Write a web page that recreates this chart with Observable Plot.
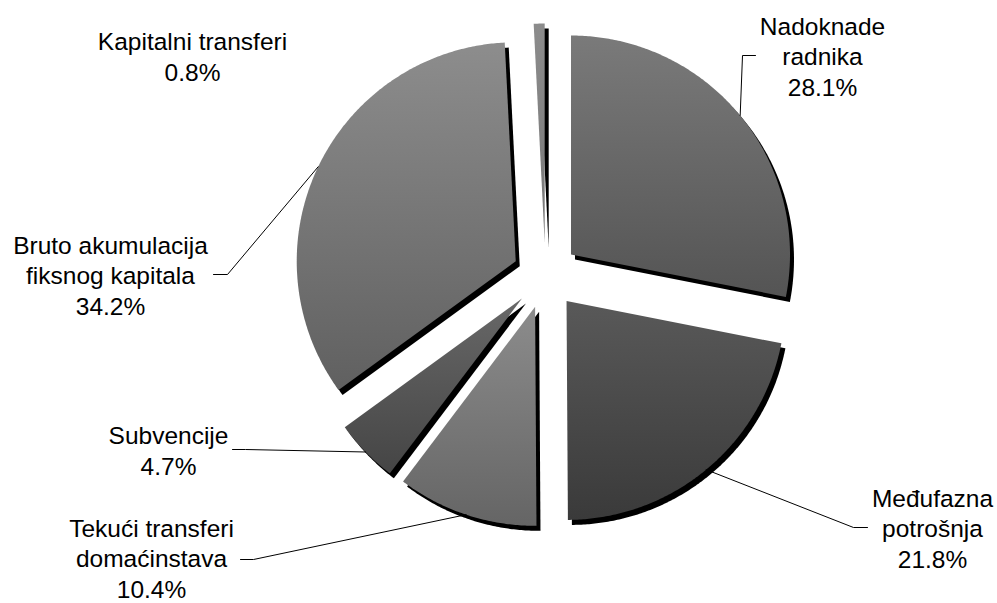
<!DOCTYPE html>
<html>
<head>
<meta charset="utf-8">
<script src="https://cdn.jsdelivr.net/npm/d3@7"></script>
<script src="https://cdn.jsdelivr.net/npm/@observablehq/plot@0.6"></script>
<style>
  html, body { margin: 0; padding: 0; background: #fff; }
  svg { display: block; }
</style>
</head>
<body>
<div id="chart"></div>
<script>
// ---- data ----
const categories = [
  "Nadoknade radnika",
  "Međufazna potrošnja",
  "Tekući transferi domaćinstava",
  "Subvencije",
  "Bruto akumulacija fiksnog kapitala",
  "Kapitalni transferi"
];
const values = [28.1, 21.8, 10.4, 4.7, 34.2, 0.8];
const labelLines = [
  ["Nadoknade", "radnika"],
  ["Međufazna", "potrošnja"],
  ["Tekući transferi", "domaćinstava"],
  ["Subvencije"],
  ["Bruto akumulacija", "fiksnog kapitala"],
  ["Kapitalni transferi"]
];

// ---- styles ----
const tones = [
  ["#7a7a7a", "#545454"],
  ["#595959", "#3a3a3a"],
  ["#8c8c8c", "#656565"],
  ["#686868", "#454545"],
  ["#8d8d8d", "#606060"],
  ["#8c8c8c", "#777777"]
];

// ---- layout (pixels) ----
const W = 997, H = 603, CX = 545, CY = 275, R = 219, EXPLODE = 33;
const labelLayout = [
  {x: 822, y: 55, elbow: 742, end: 755},
  {x: 932, y: 527, elbow: 853, end: 867},
  {x: 151, y: 557, elbow: 253, end: 240},
  {x: 168, y: 449, elbow: 245, end: 232},
  {x: 110, y: 274, elbow: 227, end: 213},
  {x: 192, y: 55, elbow: null, end: null}
];

const ux = px => (px - CX) / R;
const uy = py => (CY - py) / R;
const e = EXPLODE / R;

const arcs = d3.pie().sort(null).value(d => d)(values);

const slicePts = arcs.flatMap((a, i) => {
  const mid = (a.startAngle + a.endAngle) / 2;
  const ox = Math.sin(mid) * e, oy = Math.cos(mid) * e;
  const n = Math.max(2, Math.ceil((a.endAngle - a.startAngle) / (Math.PI / 360)));
  const pts = [{i, x: ox, y: oy}];
  for (let k = 0; k <= n; k++) {
    const t = a.startAngle + (a.endAngle - a.startAngle) * k / n;
    pts.push({i, x: ox + Math.sin(t), y: oy + Math.cos(t)});
  }
  return pts;
});

const leaderPts = arcs.flatMap((a, i) => {
  const L = labelLayout[i];
  if (L.elbow == null) return [];
  const mid = (a.startAngle + a.endAngle) / 2;
  const ox = Math.sin(mid) * e, oy = Math.cos(mid) * e;
  return [
    {i, x: ox + Math.sin(mid), y: oy + Math.cos(mid)},
    {i, x: ux(L.elbow), y: uy(L.y + (i === 2 ? 2 : 0))},
    {i, x: ux(L.end), y: uy(L.y + (i === 2 ? 2 : 0))}
  ];
});

const labels = values.map((v, i) => ({
  x: ux(labelLayout[i].x),
  y: uy(labelLayout[i].y),
  text: [...labelLines[i], v.toFixed(1) + "%"].join("\n"),
  category: categories[i]
}));

const defsMark = () => {
  const defs = d3.create("svg:defs");
  tones.forEach(([a, b], i) => {
    const g = defs.append("linearGradient")
      .attr("id", "grad" + i)
      .attr("x1", 0).attr("y1", 0).attr("x2", 0).attr("y2", 1);
    g.append("stop").attr("offset", "0%").attr("stop-color", a);
    g.append("stop").attr("offset", "100%").attr("stop-color", b);
  });
  return defs.node();
};

const chart = Plot.plot({
  width: W,
  height: H,
  margin: 0,
  x: {domain: [ux(0), ux(W)], range: [0, W], axis: null},
  y: {domain: [uy(H), uy(0)], range: [H, 0], axis: null},
  style: {fontFamily: "'Liberation Sans', Arial, sans-serif", background: "#fff"},
  marks: [
    defsMark,
    Plot.line(slicePts, {x: "x", y: "y", z: "i", fill: "black", stroke: "none", dx: 4, dy: 5}),
    ...arcs.map((a, i) => Plot.line(slicePts.filter(p => p.i === i), {
      x: "x", y: "y", fill: "url(#grad" + i + ")", stroke: "none"
    })),
    Plot.line(leaderPts, {x: "x", y: "y", z: "i", stroke: "black", strokeWidth: 1}),
    Plot.text(labels, {
      x: "x", y: "y", text: "text",
      textAnchor: "middle", lineAnchor: "middle",
      fontSize: 24.5, lineHeight: 1.245, fill: "black"
    })
  ]
});

document.getElementById("chart").appendChild(chart);
</script>
</body>
</html>
